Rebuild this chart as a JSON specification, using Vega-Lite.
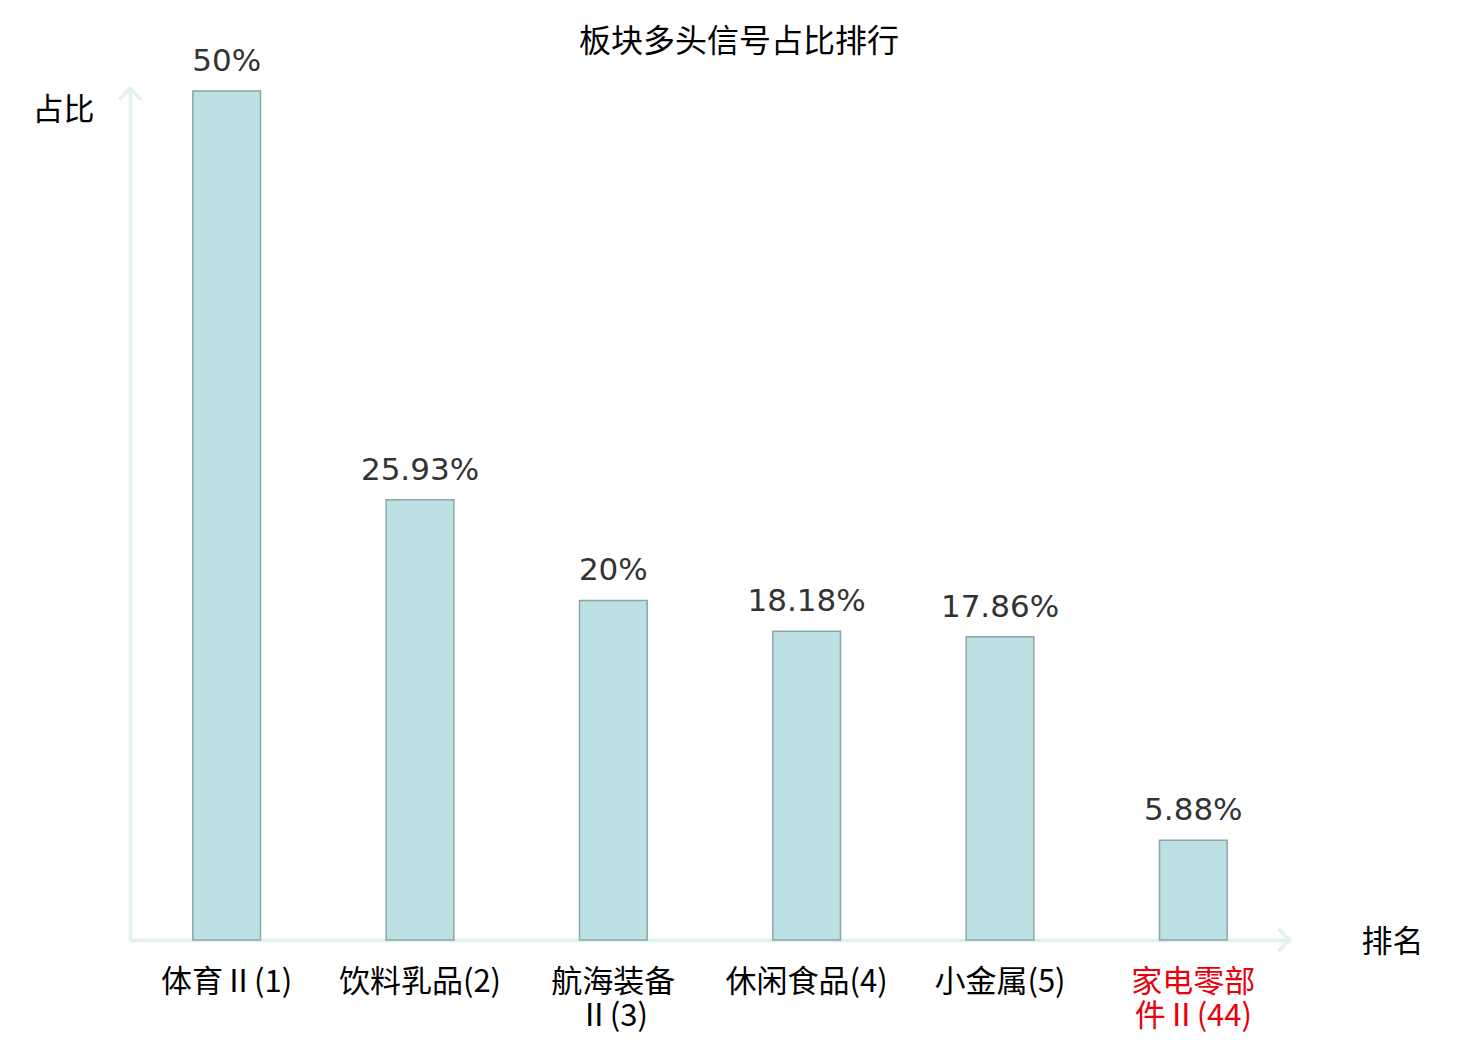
{
  "$schema": "https://vega.github.io/schema/vega-lite/v6.json",
  "width": 1160,
  "height": 849,
  "autosize": "none",
  "padding": {"left": 130, "top": 91, "right": 190, "bottom": 100},
  "background": "white",
  "config": {"view": {"stroke": null}},
  "title": {
    "text": "板块多头信号占比排行",
    "font": "Noto Sans CJK SC",
    "fontSize": 32,
    "fontWeight": "normal",
    "color": "#000000",
    "anchor": "middle",
    "frame": "group",
    "dx": 29,
    "offset": -13
  },
  "data": {
    "values": [
      {"sector": "体育Ⅱ(1)", "share": 0.5},
      {"sector": "饮料乳品(2)", "share": 0.2593},
      {"sector": "航海装备|Ⅱ(3)", "share": 0.2},
      {"sector": "休闲食品(4)", "share": 0.1818},
      {"sector": "小金属(5)", "share": 0.1786},
      {"sector": "家电零部|件Ⅱ(44)", "share": 0.0588}
    ]
  },
  "encoding": {
    "x": {
      "field": "sector",
      "type": "nominal",
      "sort": null,
      "scale": {"paddingInner": 0.65, "paddingOuter": 0.325},
      "axis": {
        "title": "排名",
        "titleFont": "Noto Sans CJK SC",
        "titleFontSize": 31,
        "titleFontWeight": "normal",
        "titleColor": "#000000",
        "titleAngle": 0,
        "titleAlign": "center",
        "titleBaseline": "middle",
        "titleX": 1262,
        "titleY": 2,
        "labelExpr": "split(datum.label, '|')",
        "labelAngle": 0,
        "labelFont": "Noto Sans CJK SC",
        "labelFontSize": 31,
        "labelLineHeight": 34,
        "labelBaseline": "top",
        "labelPadding": 27,
        "labelColor": {
          "condition": {"test": "indexof(datum.value, '44') >= 0", "value": "#e8000b"},
          "value": "#000000"
        },
        "ticks": false,
        "grid": false,
        "domainColor": "#dff2ee",
        "domainWidth": 3.5
      }
    },
    "y": {
      "field": "share",
      "type": "quantitative",
      "scale": {"domain": [0, 0.5], "nice": false},
      "axis": {
        "title": "占比",
        "titleFont": "Noto Sans CJK SC",
        "titleFontSize": 31,
        "titleFontWeight": "normal",
        "titleColor": "#000000",
        "titleAngle": 0,
        "titleAlign": "center",
        "titleBaseline": "middle",
        "titleX": -67,
        "titleY": 19,
        "labels": false,
        "ticks": false,
        "grid": false,
        "domainColor": "#dff2ee",
        "domainWidth": 3.5
      }
    }
  },
  "layer": [
    {
      "mark": {"type": "bar", "fill": "#bce0e3", "stroke": "#8aa7a8", "strokeWidth": 1.5}
    },
    {
      "mark": {
        "type": "text",
        "font": "DejaVu Sans",
        "fontSize": 31,
        "color": "#333333",
        "baseline": "bottom",
        "dy": -13
      },
      "encoding": {"text": {"field": "share", "type": "quantitative", "format": ".2~%"}}
    },
    {
      "data": {"values": [{"arrow": "y"}]},
      "mark": {
        "type": "point",
        "shape": "M-1,0.5L0,-0.5L1,0.5",
        "filled": false,
        "stroke": "#dff2ee",
        "strokeWidth": 3.5,
        "size": 484,
        "opacity": 1
      },
      "encoding": {"x": {"value": 0}, "y": {"value": 3}}
    },
    {
      "data": {"values": [{"arrow": "x"}]},
      "mark": {
        "type": "point",
        "shape": "M-0.5,-1L0.5,0L-0.5,1",
        "filled": false,
        "stroke": "#dff2ee",
        "strokeWidth": 3.5,
        "size": 484,
        "opacity": 1
      },
      "encoding": {"x": {"value": 1154}, "y": {"value": 849}}
    }
  ]
}
